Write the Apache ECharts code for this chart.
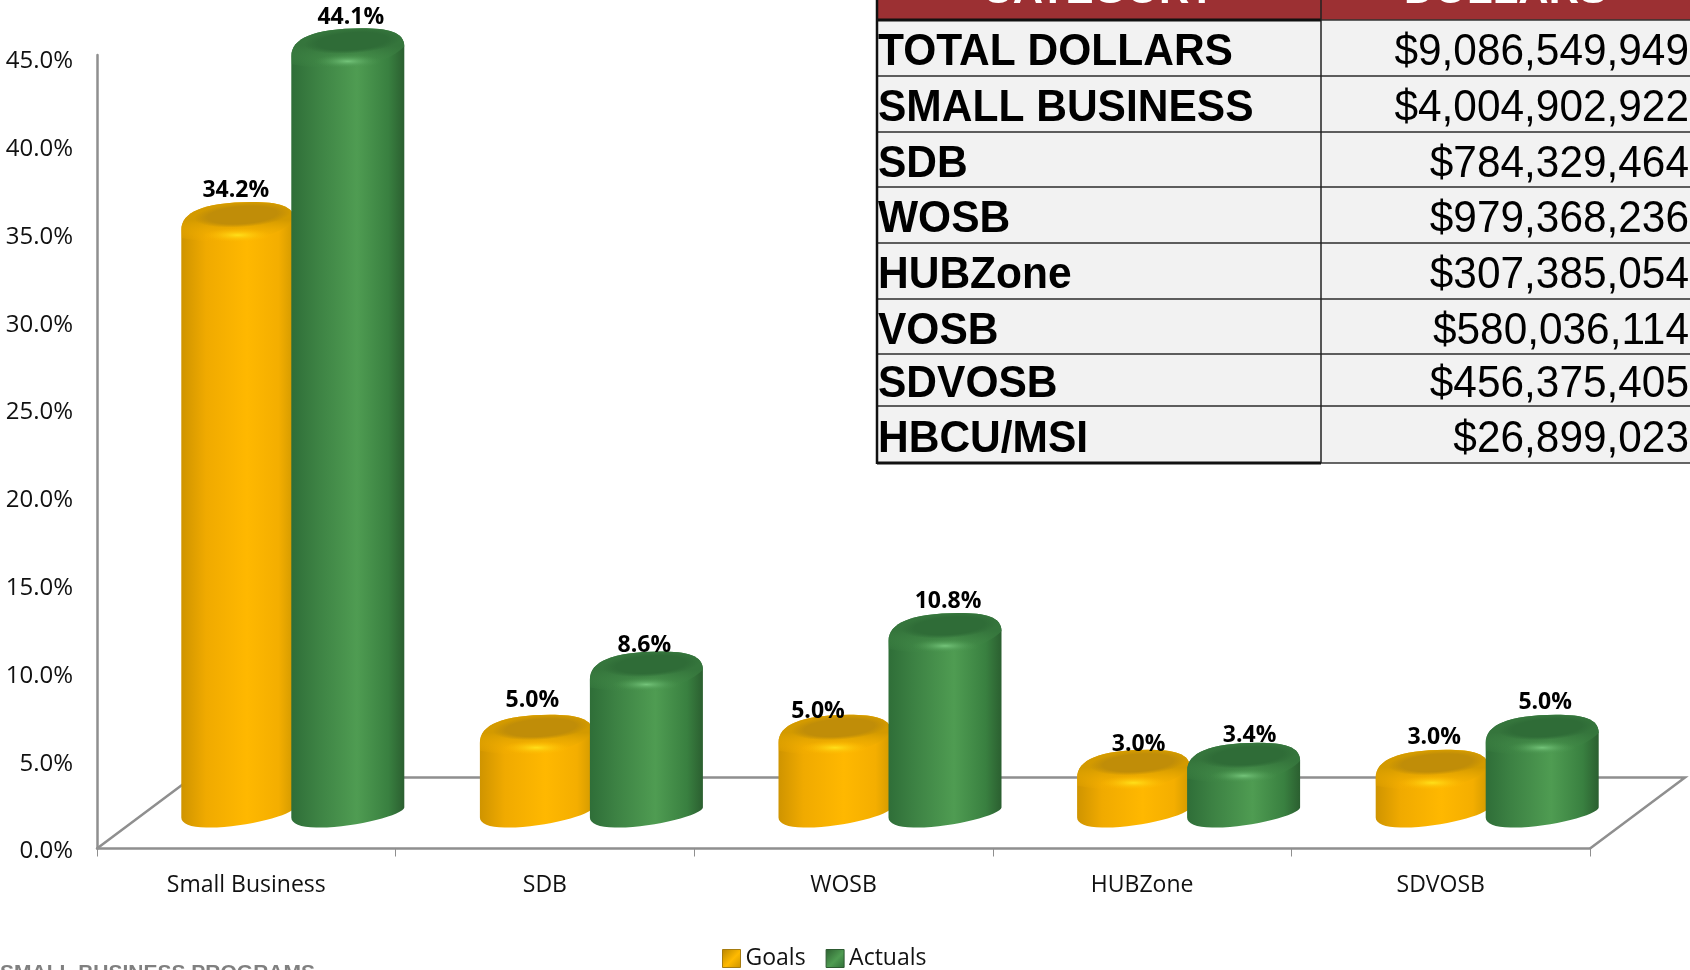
<!DOCTYPE html>
<html>
<head>
<meta charset="utf-8">
<title>Small business goals and actuals</title>
<style>
  html, body { margin: 0; padding: 0; background: #ffffff; }
  #chart { width: 1690px; height: 970px; }
</style>
<script src="https://cdn.jsdelivr.net/npm/echarts@6/dist/echarts.min.js"></script>
</head>
<body>
<div id="chart"></div>
<script>
// Chart data
const categories = ['Small Business', 'SDB', 'WOSB', 'HUBZone', 'SDVOSB'];
const goals = [34.2, 5.0, 5.0, 3.0, 3.0];
const actuals = [44.1, 8.6, 10.8, 3.4, 5.0];

// Dollar table
const tableHeaders = ['CATEGORY', 'DOLLARS'];
const tableCategories = ['TOTAL DOLLARS', 'SMALL BUSINESS', 'SDB', 'WOSB', 'HUBZone', 'VOSB', 'SDVOSB', 'HBCU/MSI'];
const tableDollars = ['$9,086,549,949', '$4,004,902,922', '$784,329,464', '$979,368,236', '$307,385,054', '$580,036,114', '$456,375,405', '$26,899,023'];

// Value axis
const axisTop = 45.2;
const axisStep = 5;

// Hand placement of the value labels, [dx, dy] from the top of each cylinder
const goalLabelShift = [[-2, -12], [-4, -14], [-17, -3], [5, -5], [2, -12]];
const actualLabelShift = [[3, -11], [-2, -6], [3, -11], [6, -7], [3, -12]];

// Pseudo-3D geometry
const DEPTH_X = 95, DEPTH_Y = 71;
const CYL_W = 113, PAIR_SHIFT = 46.5, CYL_STEP = 55, LIFT_TOP = 46, LIFT_BASE = 21;

const LABEL_FONT = '"Open Sans", sans-serif';
const TABLE_FONT = '"Liberation Sans", Arial, sans-serif';
const AXIS_GREY = '#8f8f8f';

const Linear = echarts.graphic.LinearGradient;
const Radial = echarts.graphic.RadialGradient;

const goalPalette = {
  body: ['#cf9400', '#f0aa00', '#ffb800', '#f4ae00', '#d29a00'],
  rim: '#d39a00', top: '#c08d08', topFade: 'rgba(192,141,8,0)',
  glow: '#ffe01a', shade: 'rgba(255,184,0,0)'
};
const actualPalette = {
  body: ['#2f6e38', '#3c8143', '#4f9c52', '#398040', '#2b5f30'],
  rim: '#35753c', top: '#2f6c37', topFade: 'rgba(47,108,55,0)',
  glow: '#74c47a', shade: 'rgba(70,145,75,0)'
};

// One cylinder: body, bevelled rim, recessed top, highlight and value label
function cylinder(params, api, side, palette, shifts) {
  const i = api.value(0);
  const value = api.value(1);
  const head = api.coord([i, value]);
  const foot = api.coord([i, 0]);
  const x0 = head[0] + PAIR_SHIFT + side * CYL_STEP - CYL_W / 2;
  const T = head[1] - LIFT_TOP;
  const B = foot[1] - LIFT_BASE;
  const W = CYL_W;
  const px = f => (x0 + f * W).toFixed(1);

  const crown =
    `M${px(0)} ${T + 28} C${px(0)} ${T + 10} ${px(0.2)} ${T + 0.5} ${px(0.62)} ${T} ` +
    `C${px(0.86)} ${T} ${px(1)} ${T + 4} ${px(1)} ${T + 18} `;
  const bodyPath = crown +
    `L${px(1)} ${B - 20} C${px(1)} ${B - 13} ${px(0.55)} ${B + 1} ${px(0.22)} ${B} ` +
    `C${px(0.08)} ${B} ${px(0)} ${B - 4} ${px(0)} ${B - 10} Z`;
  const rimPath = crown +
    `C${px(0.85)} ${T + 36} ${px(0.45)} ${T + 46} ${px(0)} ${T + 36} Z`;

  const shift = shifts[i];
  const glowRy = 7;
  const topRy = 12;
  return {
    type: 'group',
    children: [
      {
        type: 'path',
        shape: { d: bodyPath },
        style: {
          fill: new Linear(0, 0, 1, 0, [
            { offset: 0, color: palette.body[0] },
            { offset: 0.22, color: palette.body[1] },
            { offset: 0.58, color: palette.body[2] },
            { offset: 0.86, color: palette.body[3] },
            { offset: 1, color: palette.body[4] }
          ])
        }
      },
      {
        type: 'path',
        shape: { d: rimPath },
        style: {
          fill: new Linear(0, 0, 0, 1, [
            { offset: 0, color: palette.rim },
            { offset: 0.45, color: palette.rim },
            { offset: 1, color: palette.shade }
          ])
        }
      },
      {
        type: 'circle',
        x: x0 + 0.54 * W,
        y: T + 13,
        rotation: 0.07,
        scaleX: 0.43 * W / topRy,
        shape: { cx: 0, cy: 0, r: topRy },
        style: {
          fill: new Radial(0.5, 0.5, 0.5, [
            { offset: 0, color: palette.top },
            { offset: 0.72, color: palette.top },
            { offset: 1, color: palette.topFade }
          ])
        }
      },
      {
        type: 'circle',
        x: x0 + 0.5 * W,
        y: T + 33,
        scaleX: 0.3 * W / glowRy,
        shape: { cx: 0, cy: 0, r: glowRy },
        style: {
          fill: new Radial(0.5, 0.5, 0.5, [
            { offset: 0, color: palette.glow },
            { offset: 1, color: palette.shade }
          ])
        }
      },
      {
        type: 'text',
        z2: 20,
        style: {
          text: value.toFixed(1) + '%',
          x: x0 + W / 2 + shift[0],
          y: T + shift[1],
          textAlign: 'center',
          textVerticalAlign: 'middle',
          font: 'bold 23px ' + LABEL_FONT,
          fill: '#000000'
        }
      }
    ]
  };
}

// Floor of the pseudo-3D plot, hung off the grid rectangle
function floorOutline(params, api) {
  const g = params.coordSys;
  const bottom = g.y + g.height;
  return {
    type: 'polyline',
    shape: {
      points: [
        [g.x, bottom],
        [g.x + DEPTH_X, bottom - DEPTH_Y],
        [g.x + g.width + DEPTH_X, bottom - DEPTH_Y],
        [g.x + g.width, bottom]
      ]
    },
    style: { stroke: AXIS_GREY, lineWidth: 2.5, fill: 'none' }
  };
}

// Table drawn as graphic elements
const tableLeft = 877, tableSplit = 1321, tableRight = 1690, headerBottom = 20;
const rowEdges = [20, 76, 132, 187, 243, 299, 354, 406, 463];

function tableElements() {
  const out = [];
  const rule = (x1, y1, x2, y2, width, color) => out.push({
    type: 'line', z: 10,
    shape: { x1, y1, x2, y2 },
    style: { stroke: color || '#2b2b2b', lineWidth: width }
  });
  out.push({
    type: 'rect', z: 9,
    shape: { x: tableLeft, y: 0, width: tableRight - tableLeft, height: headerBottom },
    style: { fill: '#9c3033' }
  });
  out.push({
    type: 'rect', z: 9,
    shape: { x: tableLeft, y: headerBottom, width: tableRight - tableLeft, height: rowEdges[8] - headerBottom },
    style: { fill: '#f2f2f2' }
  });
  tableHeaders.forEach((h, c) => out.push({
    type: 'text', z: 11,
    style: {
      text: h,
      x: c === 0 ? (tableLeft + tableSplit) / 2 : (tableSplit + tableRight) / 2,
      y: -9,
      textAlign: 'center',
      textVerticalAlign: 'middle',
      font: 'bold 42px ' + TABLE_FONT,
      fill: '#ffffff'
    }
  }));
  tableCategories.forEach((name, r) => {
    const mid = (rowEdges[r] + rowEdges[r + 1]) / 2 + 5;
    out.push({
      type: 'text', z: 11,
      x: tableLeft + 1, y: mid, scaleX: 0.966,
      style: {
        text: name, x: 0, y: 0, textAlign: 'left', textVerticalAlign: 'middle',
        font: 'bold 44px ' + TABLE_FONT, fill: '#000000'
      }
    });
    out.push({
      type: 'text', z: 11,
      x: tableRight - 1, y: mid, scaleX: 0.963,
      style: {
        text: tableDollars[r], x: 0, y: 0, textAlign: 'right', textVerticalAlign: 'middle',
        font: '44px ' + TABLE_FONT, fill: '#000000'
      }
    });
    if (r > 0) rule(tableLeft, rowEdges[r], tableRight, rowEdges[r], 1.5);
  });
  rule(tableLeft, headerBottom, tableSplit, headerBottom, 3, '#111111');
  rule(tableSplit, headerBottom, tableRight, headerBottom, 1.5, '#333333');
  rule(tableLeft, rowEdges[8], tableSplit, rowEdges[8], 3, '#111111');
  rule(tableSplit, rowEdges[8], tableRight, rowEdges[8], 1.5, '#333333');
  rule(tableLeft, 0, tableLeft, rowEdges[8] + 1, 2.5, '#111111');
  rule(tableSplit, 0, tableSplit, rowEdges[8], 1.5, '#222222');
  // Footer caption running off the bottom edge
  out.push({
    type: 'text', z: 1,
    style: {
      text: 'SMALL BUSINESS PROGRAMS',
      x: 0, y: 963, textAlign: 'left', textVerticalAlign: 'top',
      font: 'bold 21px ' + TABLE_FONT,
      fill: '#808080', shadowBlur: 4, shadowColor: '#808080'
    }
  });
  return out;
}

const chart = echarts.init(document.getElementById('chart'), null, { renderer: 'canvas' });

chart.setOption({
  animation: false,
  backgroundColor: '#ffffff',
  grid: { left: 97, top: 55, width: 1493, height: 793.5, containLabel: false },
  xAxis: {
    type: 'category',
    data: categories,
    axisLine: { show: true, lineStyle: { color: AXIS_GREY, width: 2.5 } },
    axisTick: { show: true, length: 8, lineStyle: { color: AXIS_GREY, width: 1 } },
    axisLabel: { color: '#111111', fontFamily: LABEL_FONT, fontSize: 23, margin: 25 },
    splitLine: { show: false }
  },
  yAxis: {
    type: 'value',
    min: 0,
    max: axisTop,
    interval: axisStep,
    axisLine: { show: true, lineStyle: { color: AXIS_GREY, width: 2.5 } },
    axisTick: { show: false },
    axisLabel: {
      color: '#111111', fontFamily: LABEL_FONT, fontSize: 24, margin: 24,
      verticalAlign: 'top',
      lineHeight: 6,
      showMaxLabel: false,
      formatter: v => v.toFixed(1) + '%'
    },
    splitLine: { show: false }
  },
  legend: {
    left: 717,
    top: 942,
    itemWidth: 18,
    itemHeight: 18,
    itemGap: 20,
    selectedMode: false,
    textStyle: { color: '#111111', fontFamily: LABEL_FONT, fontSize: 23 },
    data: [
      {
        name: 'Goals',
        icon: 'rect',
        itemStyle: {
          color: new Linear(0, 0, 1, 1, [
            { offset: 0, color: '#b88400' },
            { offset: 0.55, color: '#ffba00' },
            { offset: 1, color: '#c99200' }
          ]),
          borderColor: '#a67c10',
          borderWidth: 1
        }
      },
      {
        name: 'Actuals',
        icon: 'rect',
        itemStyle: {
          color: new Linear(0, 0, 1, 1, [
            { offset: 0, color: '#2c5f30' },
            { offset: 0.55, color: '#4f9c52' },
            { offset: 1, color: '#2f6e38' }
          ]),
          borderColor: '#2d5a31',
          borderWidth: 1
        }
      }
    ]
  },
  graphic: { elements: tableElements() },
  series: [
    {
      name: 'Floor',
      type: 'custom',
      z: 1,
      silent: true,
      clip: false,
      renderItem: floorOutline,
      data: [[0, 0]],
      encode: { x: 0, y: 1 }
    },
    {
      name: 'Goals',
      type: 'custom',
      z: 3,
      clip: false,
      itemStyle: { color: '#ffb800' },
      renderItem: (p, api) => cylinder(p, api, -1, goalPalette, goalLabelShift),
      data: goals.map((v, i) => [i, v]),
      encode: { x: 0, y: 1 }
    },
    {
      name: 'Actuals',
      type: 'custom',
      z: 4,
      clip: false,
      itemStyle: { color: '#4f9c52' },
      renderItem: (p, api) => cylinder(p, api, 1, actualPalette, actualLabelShift),
      data: actuals.map((v, i) => [i, v]),
      encode: { x: 0, y: 1 }
    }
  ]
});
</script>
</body>
</html>
